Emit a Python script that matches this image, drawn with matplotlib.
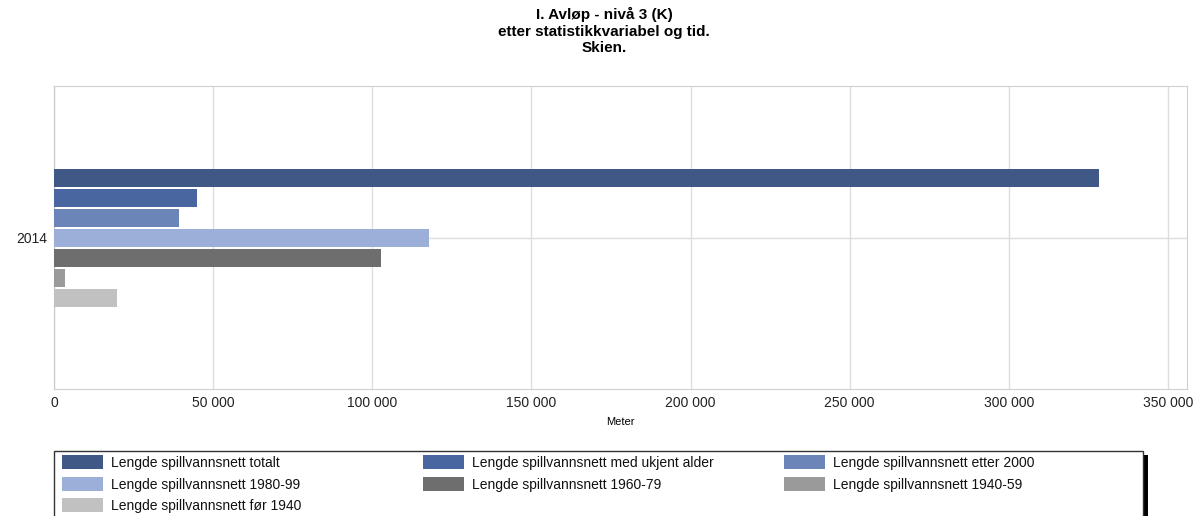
import matplotlib.pyplot as plt
from matplotlib.patches import Rectangle
from matplotlib.ticker import FuncFormatter

plt.rcParams['font.family'] = ['Liberation Sans', 'DejaVu Sans']

# data (meter, 2014, Skien)
year = '2014'
series = ['Lengde spillvannsnett totalt',
          'Lengde spillvannsnett med ukjent alder',
          'Lengde spillvannsnett etter 2000',
          'Lengde spillvannsnett 1980-99',
          'Lengde spillvannsnett 1960-79',
          'Lengde spillvannsnett 1940-59',
          'Lengde spillvannsnett før 1940']
values = [328400, 44900, 39200, 117900, 102900, 3400, 19800]
colors = ['#3F5885', '#4A66A1', '#6B85B9', '#9BAFD9', '#6E6E6E', '#9A9A9A', '#C1C1C1']
xticks = [0, 50000, 100000, 150000, 200000, 250000, 300000, 350000]

fig = plt.figure(figsize=(12.01, 5.16), dpi=100)
ax = fig.add_axes([54 / 1201, 1 - 389 / 516, (1187 - 54) / 1201, (389 - 86) / 516])

n = len(series)
pitch = 20 / 303
for i, (lab, v, c) in enumerate(zip(series, values, colors)):
    ax.barh((n // 2 - i) * pitch, v, height=18 / 303, color=c, zorder=3)

ax.set_ylim(-0.5, 0.5)
ax.set_yticks([0])
ax.set_yticklabels([year])
ax.set_xlim(0, 356000)
ax.set_xticks(xticks)
ax.xaxis.set_major_formatter(FuncFormatter(lambda x, p: f'{int(x):,}'.replace(',', ' ')))
ax.grid(True, color='#DDDDDD', linewidth=1, zorder=0)
ax.tick_params(length=0, labelsize=10, colors='#222222', pad=5)
for s in ax.spines.values():
    s.set_color('#D0D0D0')
ax.spines['left'].set_color('#C8C8C8')
ax.set_xlabel('Meter', fontsize=8, labelpad=5)

fig.text(0.503, 1 - 7 / 516, 'I. Avløp - nivå 3 (K)\netter statistikkvariabel og tid.\nSkien.',
         ha='center', va='top', fontsize=11, fontweight='bold', linespacing=1.22)

# legend drawn by hand to keep the fixed column layout
W, H = 1201, 516
def fx(x):
    return x / W
def fy(y):
    return 1 - y / H

fig.patches.append(Rectangle((fx(1143), fy(520)), fx(5), fy(455) - fy(520),
                             transform=fig.transFigure, facecolor='black', edgecolor='none'))
fig.patches.append(Rectangle((fx(54), fy(520)), fx(1143 - 54), fy(451) - fy(520),
                             transform=fig.transFigure, facecolor='white', edgecolor='#333333', lw=1))
col_x = [62, 423, 784]
row_y = [462, 484, 505]
for i, (lab, c) in enumerate(zip(series, colors)):
    x0 = col_x[i % 3]
    y0 = row_y[i // 3]
    fig.patches.append(Rectangle((fx(x0), fy(y0 + 7)), fx(41), fy(y0 - 7) - fy(y0 + 7),
                                 transform=fig.transFigure, facecolor=c, edgecolor='none'))
    fig.text(fx(x0 + 49), fy(y0 + 1), lab, ha='left', va='center', fontsize=10, color='#111111')

plt.savefig('out.png', dpi=100)
